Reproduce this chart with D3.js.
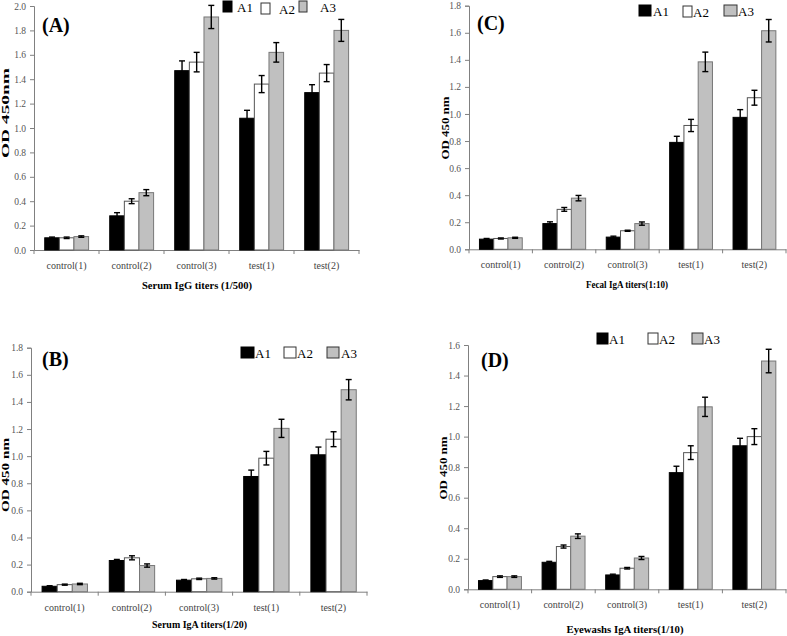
<!DOCTYPE html>
<html><head><meta charset="utf-8">
<script src="https://cdn.jsdelivr.net/npm/d3@7"></script>
<style>body{margin:0;background:#fff}svg{display:block}</style>
</head><body>
<svg id="c" width="787" height="636"></svg>
<script>
const categories = ["control(1)","control(2)","control(3)","test(1)","test(2)"];
const seriesNames = ["A1","A2","A3"];
// Panel A: Serum IgG
const aA1 = [0.10,0.28,1.47,1.08,1.29], aA1e=[0.006,0.026,0.08,0.065,0.065];
const aA2 = [0.10,0.40,1.54,1.36,1.45], aA2e=[0.006,0.02,0.08,0.07,0.07];
const aA3 = [0.11,0.47,1.91,1.62,1.80], aA3e=[0.006,0.025,0.095,0.08,0.09];
// Panel B: Serum IgA
const bA1 = [0.04,0.23,0.085,0.85,1.01], bA1e=[0.004,0.008,0.005,0.047,0.057];
const bA2 = [0.052,0.25,0.095,0.985,1.125], bA2e=[0.004,0.015,0.005,0.05,0.055];
const bA3 = [0.057,0.193,0.098,1.205,1.49], bA3e=[0.005,0.012,0.005,0.067,0.075];
// Panel C: Fecal IgA
const cA1 = [0.075,0.19,0.09,0.79,0.975], cA1e=[0.005,0.013,0.007,0.045,0.057];
const cA2 = [0.08,0.295,0.137,0.915,1.12], cA2e=[0.004,0.014,0.004,0.045,0.055];
const cA3 = [0.085,0.378,0.19,1.385,1.615], cA3e=[0.004,0.02,0.012,0.072,0.083];
// Panel D: Eyewashs IgA
const dA1 = [0.057,0.177,0.094,0.764,0.94], dA1e=[0.004,0.006,0.005,0.042,0.049];
const dA2 = [0.083,0.28,0.138,0.895,1.0], dA2e=[0.005,0.01,0.005,0.045,0.052];
const dA3 = [0.083,0.348,0.205,1.195,1.495], dA3e=[0.005,0.015,0.01,0.063,0.077];

const fills = ["#000000","#ffffff","#c0c0c0"];
const strokes = ["#000000","#555555","#777777"];
const serif = "'Liberation Serif','Times New Roman',serif";
const svg = d3.select("#c");

function panel(o){
  const g = svg.append("g");
  const y = d3.scaleLinear().domain([0,o.max]).range([o.y0,o.yTop]);
  const x0 = d3.scaleBand().domain(categories).range([o.xL,o.xR]).padding(0);
  const bw = x0.bandwidth();
  const x1 = d3.scaleBand().domain(seriesNames).range([bw*0.165, bw*0.84]).padding(0);
  const yAx = d3.axisLeft(y).tickValues(d3.range(0,o.max+1e-9,0.2)).tickFormat(d3.format(".1f")).tickSize(4).tickPadding(4);
  const ya = g.append("g").attr("transform",`translate(${o.xL},0)`).call(yAx);
  ya.select(".domain").attr("stroke","#808080");
  ya.selectAll(".tick line").attr("stroke","#808080");
  ya.selectAll("text").attr("font-family",serif).attr("font-size",9.5).attr("fill","#555");
  const xAx = d3.axisBottom(x0).tickSize(0).tickPadding(12);
  const xa = g.append("g").attr("transform",`translate(0,${o.y0})`).call(xAx);
  xa.select(".domain").attr("stroke","#808080");
  xa.selectAll("text").attr("font-family",serif).attr("font-size",10).attr("fill","#444");
  g.append("g").selectAll("line").data(categories.concat(["_end"])).join("line")
    .attr("x1",(d,i)=> i<categories.length ? x0(d) : o.xR)
    .attr("x2",(d,i)=> i<categories.length ? x0(d) : o.xR)
    .attr("y1",o.y0).attr("y2",o.y0+4).attr("stroke","#808080");
  o.series.forEach((s,si)=>{
    const sg = g.append("g");
    sg.selectAll("rect").data(s.v).join("rect")
      .attr("x",(d,i)=>x0(categories[i])+x1(seriesNames[si]))
      .attr("y",d=>y(d)).attr("width",x1.bandwidth()).attr("height",d=>o.y0-y(d))
      .attr("fill",fills[si]).attr("stroke",strokes[si]).attr("stroke-width",1);
    const eg = g.append("g").attr("stroke","#000").attr("stroke-width",1.4);
    s.v.forEach((d,i)=>{
      const cx = x0(categories[i])+x1(seriesNames[si])+x1.bandwidth()/2;
      const e = s.e[i];
      eg.append("line").attr("x1",cx).attr("x2",cx).attr("y1",y(d+e)).attr("y2",y(d-e));
      eg.append("line").attr("x1",cx-3).attr("x2",cx+3).attr("y1",y(d+e)).attr("y2",y(d+e));
      eg.append("line").attr("x1",cx-3).attr("x2",cx+3).attr("y1",y(d-e)).attr("y2",y(d-e));
    });
  });
  g.append("text").attr("x",o.lab[0]).attr("y",o.lab[1]).text(o.label)
    .attr("font-family",serif).attr("font-weight","bold").attr("font-size",20);
  g.append("text").attr("transform",`translate(${o.yt[0]},${o.yt[1]}) rotate(-90)`)
    .attr("text-anchor","middle").attr("font-family",serif).attr("font-weight","bold")
    .attr("font-size",11).attr("textLength",o.yt[2]).attr("lengthAdjust","spacingAndGlyphs").text(o.ytitle);
  g.append("text").attr("x",o.xt[0]).attr("y",o.xt[1]).attr("text-anchor","middle")
    .attr("font-family",serif).attr("font-weight","bold").attr("font-size",11)
    .attr("textLength",o.xt[2]).attr("lengthAdjust","spacingAndGlyphs").text(o.xtitle);
  seriesNames.forEach((n,i)=>{
    const L = o.leg[i];
    g.append("rect").attr("x",L[0]).attr("y",L[1]).attr("width",L[2]).attr("height",11)
      .attr("fill",fills[i]).attr("stroke",i==0?"#000":"#333").attr("stroke-width",1);
    g.append("text").attr("x",L[3]).attr("y",L[1]+11).text(n)
      .attr("font-family",serif).attr("font-size",13);
  });
}

panel({xL:34,xR:359,y0:250,yTop:6,max:2.0,label:"(A)",lab:[42,32],
  ytitle:"OD 450nm",yt:[9,113,90],xtitle:"Serum IgG titers (1/500)",xt:[197,289,110],
  leg:[[223,1,9,237],[261,3,9,279],[299,1,8,320]],
  series:[{v:aA1,e:aA1e},{v:aA2,e:aA2e},{v:aA3,e:aA3e}]});
panel({xL:469,xR:786,y0:249.3,yTop:5.7,max:1.8,label:"(C)",lab:[477,30],
  ytitle:"OD 450 nm",yt:[449,128,63],xtitle:"Fecal IgA titers(1:10)",xt:[627,288,82],
  leg:[[639,5,12,653],[683,6,9,693],[724,5,13,738]],
  series:[{v:cA1,e:cA1e},{v:cA2,e:cA2e},{v:cA3,e:cA3e}]});
panel({xL:31,xR:367,y0:591.7,yTop:347.7,max:1.8,label:"(B)",lab:[42,366],
  ytitle:"OD 450 nm",yt:[9,475,74],xtitle:"Serum IgA titers(1/20)",xt:[199.5,628,95],
  leg:[[241,347,13,255],[284,347,12,297],[327,347,12,341]],
  series:[{v:bA1,e:bA1e},{v:bA2,e:bA2e},{v:bA3,e:bA3e}]});
panel({xL:468,xR:786,y0:589.3,yTop:345,max:1.6,label:"(D)",lab:[481,367],
  ytitle:"OD 450 nm",yt:[447,468,63],xtitle:"Eyewashs IgA titers(1/10)",xt:[625,633,117],
  leg:[[597,333,11,609],[648,333,10,659],[692,333,11,704]],
  series:[{v:dA1,e:dA1e},{v:dA2,e:dA2e},{v:dA3,e:dA3e}]});
</script>
</body></html>
